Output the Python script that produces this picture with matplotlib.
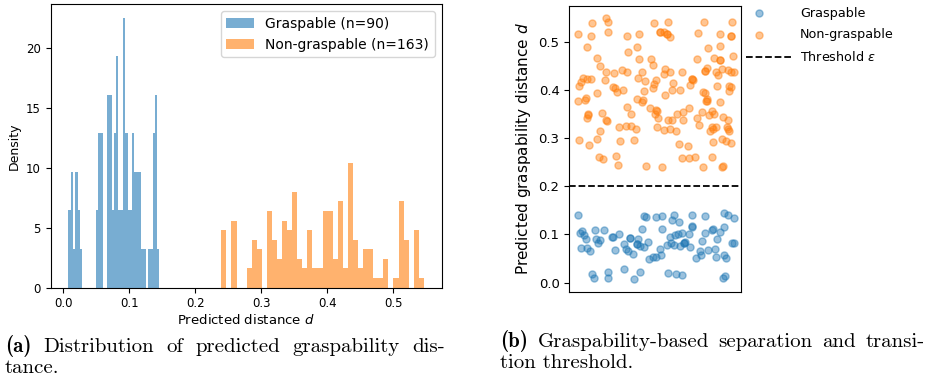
import numpy as np
import matplotlib
matplotlib.use("Agg")
import matplotlib.pyplot as plt
from matplotlib.legend_handler import HandlerPathCollection

# histogram data: counts per bin (40 bins for each group)
grasp_range = (0.0075, 0.1455)
grasp_counts = [2, 3, 1, 3, 2, 1, 0, 0, 0, 0, 0, 0, 2, 4, 4, 0, 0, 5, 5, 2,
                4, 6, 2, 2, 7, 4, 2, 2, 4, 3, 3, 3, 1, 1, 0, 1, 1, 4, 5, 1]
nongrasp_range = (0.2393, 0.5464)
nongrasp_counts = [6, 0, 7, 0, 0, 2, 5, 4, 0, 8, 5, 3, 7, 6, 10, 3, 2, 6, 2, 2,
                   8, 8, 3, 9, 2, 13, 5, 2, 4, 4, 1, 1, 3, 0, 1, 9, 5, 0, 6, 1]

# scatter data: jitter (0-1) and predicted distance
grasp_x = [0.049, 0.433, 0.449, 0.503, 0.542, 0.612, 0.600, 0.639, 0.713, 0.790,
           0.899, 0.922, 0.957, 0.713, 0.717, 0.060, 0.076, 0.084, 0.095, 0.150,
           0.204, 0.154, 0.169, 0.181, 0.255, 0.251, 0.291, 0.356, 0.356, 0.425,
           0.538, 0.402, 0.396, 0.396, 0.414, 0.456, 0.321, 0.328, 0.340, 0.373,
           0.433, 0.588, 0.616, 0.631, 0.658, 0.697, 0.674, 0.670, 0.670, 0.569,
           0.608, 0.643, 0.592, 0.771, 0.790, 0.833, 0.837, 0.880, 0.899, 0.860,
           0.946, 0.957, 0.070, 0.103, 0.123, 0.266, 0.526, 0.705, 0.763, 0.806,
           0.849, 0.899, 0.915, 0.856, 0.740, 0.767, 0.464, 0.488, 0.503, 0.534,
           0.130, 0.142, 0.227, 0.227, 0.317, 0.379, 0.414, 0.577, 0.620, 0.658,
           0.895, 0.907]
grasp_y = [0.140, 0.138, 0.136, 0.136, 0.138, 0.141, 0.131, 0.125, 0.140, 0.138,
           0.145, 0.141, 0.134, 0.118, 0.115, 0.104, 0.107, 0.098, 0.091, 0.109,
           0.110, 0.091, 0.083, 0.089, 0.094, 0.095, 0.100, 0.092, 0.092, 0.112,
           0.111, 0.090, 0.080, 0.080, 0.076, 0.084, 0.080, 0.069, 0.066, 0.059,
           0.075, 0.094, 0.098, 0.102, 0.104, 0.102, 0.085, 0.082, 0.082, 0.078,
           0.079, 0.077, 0.083, 0.087, 0.104, 0.109, 0.112, 0.105, 0.116, 0.090,
           0.082, 0.083, 0.071, 0.072, 0.066, 0.067, 0.069, 0.073, 0.066, 0.067,
           0.069, 0.058, 0.051, 0.053, 0.051, 0.057, 0.050, 0.053, 0.053, 0.057,
           0.017, 0.010, 0.022, 0.010, 0.028, 0.007, 0.022, 0.020, 0.018, 0.015,
           0.010, 0.013]

nongrasp_x = [0.212, 0.227, 0.130, 0.491, 0.577, 0.787, 0.950, 0.223, 0.051, 0.126,
              0.336, 0.408, 0.526, 0.526, 0.552, 0.569, 0.569, 0.587, 0.752, 0.878,
              0.942, 0.942, 0.105, 0.394, 0.880, 0.810, 0.342, 0.161, 0.406, 0.478,
              0.486, 0.746, 0.845, 0.880, 0.880, 0.955, 0.181, 0.212, 0.258, 0.309,
              0.334, 0.423, 0.550, 0.557, 0.585, 0.656, 0.790, 0.790, 0.800, 0.852,
              0.864, 0.891, 0.922, 0.940, 0.959, 0.082, 0.066, 0.058, 0.105, 0.126,
              0.208, 0.398, 0.441, 0.505, 0.495, 0.486, 0.606, 0.713, 0.713, 0.722,
              0.705, 0.253, 0.268, 0.280, 0.311, 0.437, 0.557, 0.596, 0.647, 0.781,
              0.792, 0.858, 0.928, 0.942, 0.928, 0.161, 0.097, 0.392, 0.800,
              0.053, 0.091, 0.422, 0.429, 0.336, 0.359, 0.468, 0.503, 0.511, 0.499,
              0.519, 0.192, 0.107, 0.111, 0.105, 0.220, 0.216, 0.573, 0.596, 0.627,
              0.662, 0.697, 0.662, 0.742, 0.771, 0.814, 0.833, 0.843, 0.796, 0.804,
              0.878, 0.893, 0.926, 0.755, 0.290, 0.328, 0.359, 0.387, 0.511, 0.550,
              0.588, 0.620, 0.177, 0.161, 0.058, 0.117, 0.297, 0.379, 0.829, 0.852,
              0.821, 0.837, 0.919, 0.926, 0.930, 0.891, 0.911, 0.942, 0.837, 0.641,
              0.689, 0.173, 0.198, 0.270, 0.286, 0.449, 0.538, 0.654, 0.699, 0.730,
              0.833, 0.779, 0.891, 0.897]
nongrasp_y = [0.550, 0.540, 0.539, 0.539, 0.540, 0.540, 0.540, 0.521, 0.517, 0.511,
              0.511, 0.517, 0.521, 0.521, 0.521, 0.515, 0.515, 0.509, 0.518, 0.517,
              0.511, 0.511, 0.490, 0.490, 0.492, 0.486, 0.479, 0.467, 0.465, 0.464,
              0.451, 0.464, 0.466, 0.462, 0.462, 0.471, 0.450, 0.438, 0.435, 0.441,
              0.438, 0.438, 0.433, 0.443, 0.438, 0.438, 0.440, 0.440, 0.446, 0.438,
              0.431, 0.443, 0.441, 0.437, 0.437, 0.425, 0.416, 0.409, 0.423, 0.423,
              0.421, 0.424, 0.418, 0.421, 0.413, 0.404, 0.414, 0.423, 0.423, 0.420,
              0.410, 0.407, 0.403, 0.395, 0.400, 0.398, 0.389, 0.399, 0.400, 0.396,
              0.393, 0.409, 0.409, 0.407, 0.397, 0.394, 0.384, 0.382, 0.381,
              0.376, 0.380, 0.374, 0.378, 0.365, 0.349, 0.363, 0.359, 0.356, 0.351,
              0.342, 0.353, 0.351, 0.347, 0.341, 0.336, 0.337, 0.338, 0.338, 0.351,
              0.355, 0.362, 0.337, 0.342, 0.355, 0.347, 0.356, 0.351, 0.377, 0.376,
              0.374, 0.344, 0.338, 0.328, 0.324, 0.326, 0.326, 0.318, 0.324, 0.317,
              0.318, 0.315, 0.314, 0.298, 0.297, 0.285, 0.293, 0.296, 0.323, 0.323,
              0.314, 0.319, 0.323, 0.318, 0.315, 0.298, 0.293, 0.290, 0.292, 0.287,
              0.284, 0.261, 0.257, 0.262, 0.244, 0.243, 0.241, 0.258, 0.259, 0.261,
              0.261, 0.241, 0.241, 0.242]

threshold = 0.2

cap_a = ["(a)", "Distribution", "of", "predicted", "graspability", "dis-"]
cap_a2 = "tance."
cap_b = ["(b)", "Graspability-based", "separation", "and", "transi-"]
cap_b2 = "tion threshold."


class LeftMarker(HandlerPathCollection):
    # legend marker sits near the left end of the handle box
    def get_xdata(self, legend, xdescent, ydescent, width, height, fontsize):
        return [-xdescent, -xdescent + width], [-xdescent + 0.27 * width]


fig = plt.figure(figsize=(9.28, 3.77), dpi=100)

# (a) histogram
ax1 = fig.add_axes([0.0546, 0.2374, 0.4213, 0.7515])
g_edges = np.linspace(grasp_range[0], grasp_range[1], len(grasp_counts) + 1)
n_edges = np.linspace(nongrasp_range[0], nongrasp_range[1], len(nongrasp_counts) + 1)
ax1.hist(g_edges[:-1], bins=g_edges, weights=grasp_counts, density=True,
         alpha=0.6, color="C0", label=f"Graspable (n={sum(grasp_counts)})")
ax1.hist(n_edges[:-1], bins=n_edges, weights=nongrasp_counts, density=True,
         alpha=0.6, color="C1", label=f"Non-graspable (n={sum(nongrasp_counts)})")
ax1.set_xlabel("Predicted distance $d$", fontsize=9.5, labelpad=2)
ax1.set_ylabel("Density", fontsize=9)
ax1.tick_params(labelsize=8.5)
ax1.set_xticks([0.0, 0.1, 0.2, 0.3, 0.4, 0.5])
ax1.set_yticks([0, 5, 10, 15, 20])
ax1.legend(loc="upper right", fontsize=10)

# (b) scatter
ax2 = fig.add_axes([0.6135, 0.2263, 0.185, 0.7586])
sc1 = ax2.scatter(grasp_x, grasp_y, s=26, alpha=0.45, color="C0", label="Graspable")
sc2 = ax2.scatter(nongrasp_x, nongrasp_y, s=26, alpha=0.45, color="C1", label="Non-graspable")
ax2.axhline(threshold, color="black", linestyle="--", linewidth=1.3,
            label=r"Threshold $\epsilon$")
ax2.set_xlim(0, 1)
ax2.set_ylim(-0.0187, 0.5747)
ax2.set_xticks([])
ax2.set_yticks([0.0, 0.1, 0.2, 0.3, 0.4, 0.5])
ax2.tick_params(labelsize=9.5)
ax2.set_ylabel("Predicted graspability distance $d$", fontsize=11)
ax2.legend(loc="upper left", bbox_to_anchor=(1.0, 1.015), frameon=False,
           borderaxespad=0, fontsize=9.2, handlelength=3.6, handletextpad=0.6,
           labelspacing=0.7, handler_map={sc1: LeftMarker(), sc2: LeftMarker()})

# captions (first line justified like the LaTeX subcaption)
W = fig.bbox.width
renderer = fig.canvas.get_renderer()
cap_size = 15


def caption(x0, x1, y, words, second):
    texts = []
    for i, w in enumerate(words):
        fam = "cmb10" if i == 0 else "cmr10"
        texts.append(fig.text(0, y, w, family=fam, fontsize=cap_size))
    widths = [t.get_window_extent(renderer).width for t in texts]
    gap = (x1 - x0 - sum(widths)) / (len(texts) - 1)
    x = x0
    for t, w in zip(texts, widths):
        t.set_x(x / W)
        x += w + gap
    fig.text(x0 / W, y - 0.054, second, family="cmr10", fontsize=cap_size)


caption(5, 445, 0.065, cap_a, cap_a2)
caption(500, 925, 0.079, cap_b, cap_b2)

fig.savefig("out.png", dpi=100)
